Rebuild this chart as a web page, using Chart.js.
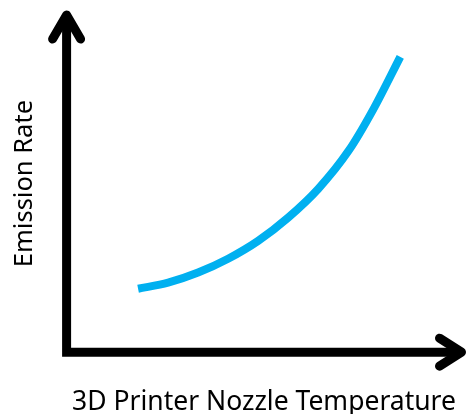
<!DOCTYPE html>
<html>
<head>
<meta charset="utf-8">
<script src="https://cdn.jsdelivr.net/npm/chart.js@4/dist/chart.umd.min.js"></script>
<style>
  html, body { margin: 0; padding: 0; background: #fff; }
  canvas { display: block; }
</style>
</head>
<body>
<canvas id="emisionChart" width="468" height="414"></canvas>
<script>
// data (arbitrary units, 0..100 on both axes)
const temperatura = [18.1, 25.7, 33.3, 40.9, 48.5, 56.1, 63.7, 71.4, 77.7, 84.5];
const emision = [18.8, 20.6, 23.6, 27.7, 33.0, 39.9, 48.4, 59.7, 72.1, 87.6];
const tituloX = "3D Printer Nozzle Temperature";
const tituloY = "Emission Rate";

const puntos = temperatura.map((t, i) => ({ x: t, y: emision[i] }));

// ejes con flecha, dibujados sobre el chartArea
const flechas = {
    id: "flechas",
    beforeDatasetsDraw(chart) {
        const { ctx, chartArea: a } = chart;
        ctx.save();
        ctx.strokeStyle = "#000";
        ctx.lineWidth = 9;
        ctx.lineJoin = "miter";
        ctx.lineCap = "butt";
        ctx.beginPath();
        ctx.moveTo(a.left, a.top + 2);
        ctx.lineTo(a.left, a.bottom);
        ctx.lineTo(a.right - 2, a.bottom);
        ctx.stroke();

        ctx.lineJoin = "round";
        ctx.lineCap = "round";
        ctx.beginPath();
        ctx.moveTo(a.left - 14, a.top + 24);
        ctx.lineTo(a.left, a.top);
        ctx.lineTo(a.left + 14, a.top + 24);
        ctx.stroke();
        ctx.beginPath();
        ctx.moveTo(a.right - 22, a.bottom - 14);
        ctx.lineTo(a.right, a.bottom);
        ctx.lineTo(a.right - 22, a.bottom + 14);
        ctx.stroke();
        ctx.restore();
    }
};

new Chart(document.getElementById("emisionChart"), {
    type: "line",
    data: {
        datasets: [{
            data: puntos,
            borderColor: "#00b0f0",
            borderWidth: 8,
            borderCapStyle: "butt",
            pointRadius: 0,
            cubicInterpolationMode: "monotone",
            fill: false,
            clip: false
        }]
    },
    options: {
        responsive: false,
        animation: false,
        events: [],
        layout: { padding: { top: 15, right: 6.5, left: 0, bottom: 0 } },
        plugins: { legend: { display: false }, tooltip: { enabled: false } },
        scales: {
            x: {
                type: "linear",
                min: 0,
                max: 100,
                ticks: { display: false },
                grid: { display: false, drawTicks: false },
                border: { display: false },
                title: {
                    display: true,
                    text: tituloX,
                    color: "#000",
                    font: { family: "'Noto Sans'", size: 26.5, lineHeight: 0.9 },
                    padding: { top: 38, bottom: 0 }
                }
            },
            y: {
                min: 0,
                max: 100,
                ticks: { display: false },
                grid: { display: false, drawTicks: false },
                border: { display: false },
                title: {
                    display: true,
                    text: tituloY,
                    color: "#000",
                    font: { family: "'Noto Sans'", size: 25.5 },
                    padding: { top: 9, bottom: 27 }
                }
            }
        }
    },
    plugins: [flechas]
});
</script>
</body>
</html>
